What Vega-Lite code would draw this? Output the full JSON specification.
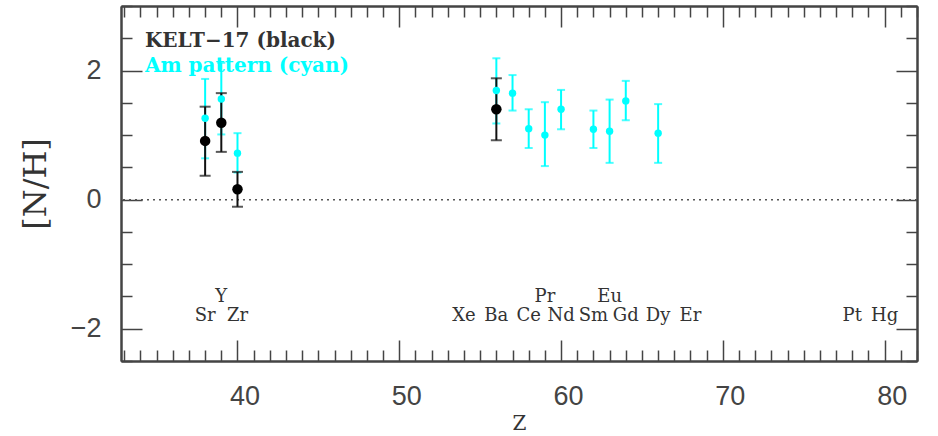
{
  "$schema": "https://vega.github.io/schema/vega-lite/v6.json",
  "width": 796,
  "height": 355,
  "autosize": {"type": "none"},
  "padding": {"left": 121, "top": 6, "right": 21, "bottom": 75},
  "background": "white",
  "config": {
    "view": {"stroke": null},
    "axis": {
      "grid": false,
      "domainColor": "#444",
      "domainWidth": 2,
      "tickColor": "#444",
      "tickWidth": 1.5,
      "labelFont": "Liberation Sans",
      "labelFontSize": 27,
      "labelColor": "#444",
      "labelOverlap": false,
      "labelFlush": false,
      "titleFont": "DejaVu Serif",
      "titleFontWeight": "normal",
      "titleColor": "#333"
    }
  },
  "datasets": {
    "ab": [
      {"el": "Sr", "Z": 38, "star": "KELT-17", "v": 0.91, "lo": 0.37, "hi": 1.44},
      {"el": "Y", "Z": 39, "star": "KELT-17", "v": 1.19, "lo": 0.74, "hi": 1.65},
      {"el": "Zr", "Z": 40, "star": "KELT-17", "v": 0.16, "lo": -0.11, "hi": 0.43},
      {"el": "Ba", "Z": 56, "star": "KELT-17", "v": 1.40, "lo": 0.92, "hi": 1.88},
      {"el": "Sr", "Z": 38, "star": "Am", "v": 1.26, "lo": 0.64, "hi": 1.87},
      {"el": "Y", "Z": 39, "star": "Am", "v": 1.56, "lo": 1.01, "hi": 2.12},
      {"el": "Zr", "Z": 40, "star": "Am", "v": 0.72, "lo": 0.42, "hi": 1.03},
      {"el": "Ba", "Z": 56, "star": "Am", "v": 1.69, "lo": 1.18, "hi": 2.19},
      {"el": "La", "Z": 57, "star": "Am", "v": 1.65, "lo": 1.38, "hi": 1.93},
      {"el": "Ce", "Z": 58, "star": "Am", "v": 1.10, "lo": 0.80, "hi": 1.40},
      {"el": "Pr", "Z": 59, "star": "Am", "v": 1.00, "lo": 0.52, "hi": 1.51},
      {"el": "Nd", "Z": 60, "star": "Am", "v": 1.40, "lo": 1.09, "hi": 1.70},
      {"el": "Sm", "Z": 62, "star": "Am", "v": 1.09, "lo": 0.80, "hi": 1.38},
      {"el": "Eu", "Z": 63, "star": "Am", "v": 1.06, "lo": 0.57, "hi": 1.55},
      {"el": "Gd", "Z": 64, "star": "Am", "v": 1.53, "lo": 1.23, "hi": 1.84},
      {"el": "Dy", "Z": 66, "star": "Am", "v": 1.03, "lo": 0.57, "hi": 1.48}
    ],
    "labels": [
      {"el": "Y", "Z": 39, "tier": "upper"},
      {"el": "Pr", "Z": 59, "tier": "upper"},
      {"el": "Eu", "Z": 63, "tier": "upper"},
      {"el": "Sr", "Z": 38, "tier": "lower"},
      {"el": "Zr", "Z": 40, "tier": "lower"},
      {"el": "Xe", "Z": 54, "tier": "lower"},
      {"el": "Ba", "Z": 56, "tier": "lower"},
      {"el": "Ce", "Z": 58, "tier": "lower"},
      {"el": "Nd", "Z": 60, "tier": "lower"},
      {"el": "Sm", "Z": 62, "tier": "lower"},
      {"el": "Gd", "Z": 64, "tier": "lower"},
      {"el": "Dy", "Z": 66, "tier": "lower"},
      {"el": "Er", "Z": 68, "tier": "lower"},
      {"el": "Pt", "Z": 78, "tier": "lower"},
      {"el": "Hg", "Z": 80, "tier": "lower"}
    ]
  },
  "data": {"name": "ab"},
  "resolve": {"axis": {"x": "independent", "y": "independent"}},
  "layer": [
    {
      "data": {"values": [{"ref": 0}]},
      "mark": {"type": "rule", "color": "#555", "strokeWidth": 1.5, "strokeDash": [2, 4]},
      "encoding": {
        "y": {"field": "ref", "type": "quantitative", "axis": null, "scale": {"domain": [-2.5, 3], "nice": false, "zero": false}}
      }
    },
    {
      "transform": [{"filter": "datum.star === 'Am'"}],
      "mark": {"type": "rule", "color": "#00FFFF", "strokeWidth": 2},
      "encoding": {
        "x": {
          "field": "Z", "type": "quantitative",
          "scale": {"domain": [32.8, 82], "nice": false, "zero": false},
          "axis": {
            "orient": "bottom", "labels": false, "title": null,
            "values": [33,34,35,36,37,38,39,41,42,43,44,45,46,47,48,49,51,52,53,54,55,56,57,58,59,61,62,63,64,65,66,67,68,69,71,72,73,74,75,76,77,78,79,81,82],
            "tickSize": -11
          }
        },
        "y": {
          "field": "lo", "type": "quantitative",
          "axis": {
            "orient": "left", "labels": false, "title": null,
            "values": [-2.5,-1.5,-1,-0.5,0.5,1,1.5,2.5,3],
            "tickSize": -11
          }
        },
        "y2": {"field": "hi"}
      }
    },
    {
      "transform": [{"filter": "datum.star === 'Am'"}],
      "mark": {"type": "tick", "orient": "horizontal", "color": "#00FFFF", "thickness": 2, "size": 8},
      "encoding": {
        "x": {
          "field": "Z", "type": "quantitative",
          "axis": {"orient": "top", "labels": false, "title": null, "values": [40, 50, 60, 70, 80], "tickSize": -21}
        },
        "y": {
          "field": "hi", "type": "quantitative",
          "axis": {"orient": "right", "labels": false, "title": null, "values": [-2, 0, 2], "tickSize": -21}
        }
      }
    },
    {
      "transform": [{"filter": "datum.star === 'Am'"}],
      "mark": {"type": "tick", "orient": "horizontal", "color": "#00FFFF", "thickness": 2, "size": 8},
      "encoding": {
        "x": {
          "field": "Z", "type": "quantitative",
          "axis": {
            "orient": "top", "labels": false, "title": null,
            "values": [33,34,35,36,37,38,39,41,42,43,44,45,46,47,48,49,51,52,53,54,55,56,57,58,59,61,62,63,64,65,66,67,68,69,71,72,73,74,75,76,77,78,79,81,82],
            "tickSize": -11
          }
        },
        "y": {
          "field": "lo", "type": "quantitative",
          "axis": {
            "orient": "right", "labels": false, "title": null,
            "values": [-2.5,-1.5,-1,-0.5,0.5,1,1.5,2.5,3],
            "tickSize": -11
          }
        }
      }
    },
    {
      "transform": [{"filter": "datum.star === 'KELT-17'"}],
      "mark": {"type": "rule", "color": "#111", "strokeWidth": 2},
      "encoding": {
        "x": {
          "field": "Z", "type": "quantitative",
          "axis": {
            "orient": "bottom", "title": "Z",
            "values": [40, 50, 60, 70, 80],
            "format": "d",
            "tickSize": -21,
            "labelPadding": 43,
            "labelOffset": 7,
            "titleFontSize": 20,
            "titlePadding": 4
          }
        },
        "y": {
          "field": "lo", "type": "quantitative",
          "axis": {
            "orient": "left", "title": "[N/H]",
            "values": [-2, 0, 2],
            "format": "d",
            "tickSize": -21,
            "labelPadding": 41,
            "titleFontSize": 32,
            "titlePadding": 18
          }
        },
        "y2": {"field": "hi"}
      }
    },
    {
      "transform": [{"filter": "datum.star === 'KELT-17'"}],
      "mark": {"type": "tick", "orient": "horizontal", "color": "#111", "thickness": 2, "size": 11},
      "encoding": {
        "x": {"field": "Z", "type": "quantitative", "axis": null},
        "y": {"field": "hi", "type": "quantitative", "axis": null}
      }
    },
    {
      "transform": [{"filter": "datum.star === 'KELT-17'"}],
      "mark": {"type": "tick", "orient": "horizontal", "color": "#111", "thickness": 2, "size": 11},
      "encoding": {
        "x": {"field": "Z", "type": "quantitative", "axis": null},
        "y": {"field": "lo", "type": "quantitative", "axis": null}
      }
    },
    {
      "transform": [{"filter": "datum.star === 'Am'"}],
      "mark": {"type": "circle", "color": "#00FFFF", "opacity": 1, "size": 55},
      "encoding": {
        "x": {"field": "Z", "type": "quantitative", "axis": null},
        "y": {"field": "v", "type": "quantitative", "axis": null}
      }
    },
    {
      "transform": [{"filter": "datum.star === 'KELT-17'"}],
      "mark": {"type": "circle", "color": "#000", "opacity": 1, "size": 110},
      "encoding": {
        "x": {"field": "Z", "type": "quantitative", "axis": null},
        "y": {"field": "v", "type": "quantitative", "axis": null}
      }
    },
    {
      "data": {"name": "labels"},
      "transform": [{"filter": "datum.tier === 'upper'"}],
      "mark": {"type": "text", "font": "DejaVu Serif", "fontSize": 18, "color": "#333", "align": "center", "baseline": "alphabetic"},
      "encoding": {
        "x": {"field": "Z", "type": "quantitative", "axis": null},
        "y": {"datum": -1.59, "type": "quantitative", "axis": null},
        "text": {"field": "el"}
      }
    },
    {
      "data": {"name": "labels"},
      "transform": [{"filter": "datum.tier === 'lower'"}],
      "mark": {"type": "text", "font": "DejaVu Serif", "fontSize": 18, "color": "#333", "align": "center", "baseline": "alphabetic"},
      "encoding": {
        "x": {"field": "Z", "type": "quantitative", "axis": null},
        "y": {"datum": -1.88, "type": "quantitative", "axis": null},
        "text": {"field": "el"}
      }
    },
    {
      "data": {"values": [{"t": "KELT−17 (black)"}]},
      "mark": {"type": "text", "font": "DejaVu Serif", "fontSize": 20, "fontWeight": "bold", "color": "#333", "align": "left", "baseline": "alphabetic"},
      "encoding": {
        "x": {"datum": 34.28, "type": "quantitative", "axis": null},
        "y": {"datum": 2.365, "type": "quantitative", "axis": null},
        "text": {"field": "t"}
      }
    },
    {
      "data": {"values": [{"t": "Am pattern (cyan)"}]},
      "mark": {"type": "text", "font": "DejaVu Serif", "fontSize": 20, "fontWeight": "bold", "color": "#00FFFF", "align": "left", "baseline": "alphabetic"},
      "encoding": {
        "x": {"datum": 34.28, "type": "quantitative", "axis": null},
        "y": {"datum": 1.98, "type": "quantitative", "axis": null},
        "text": {"field": "t"}
      }
    }
  ]
}
